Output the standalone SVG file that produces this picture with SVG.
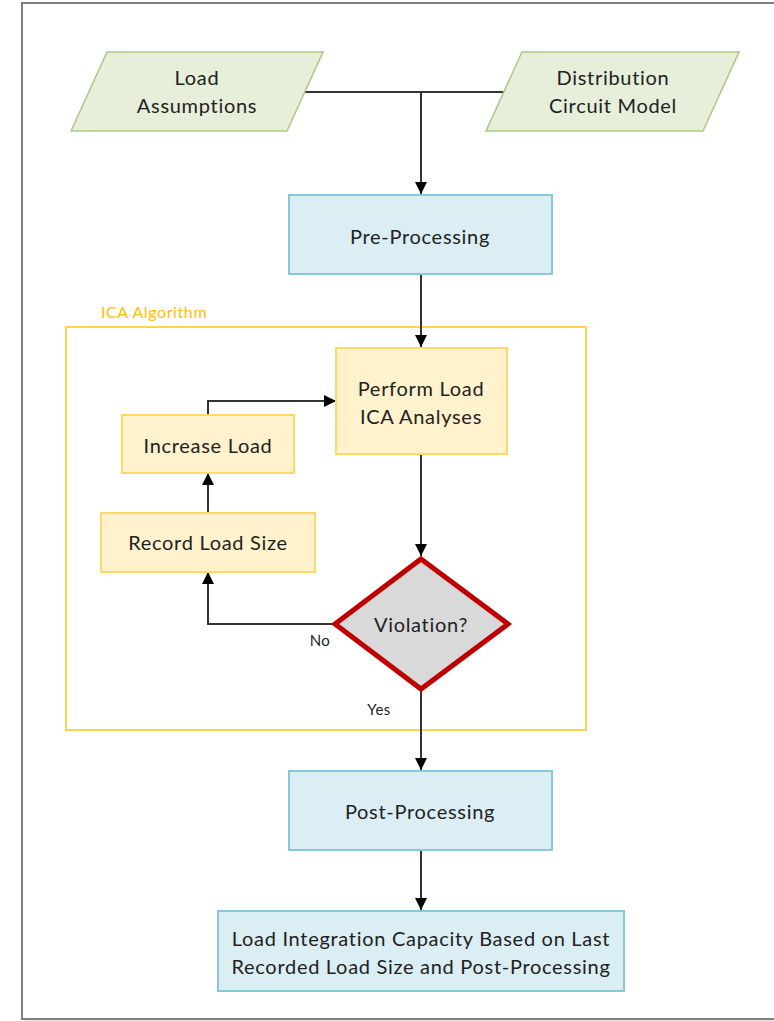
<svg xmlns="http://www.w3.org/2000/svg" width="774" height="1021" viewBox="0 0 774 1021">
<defs>
<marker id="arr" viewBox="0 0 10 10" refX="10" refY="5" markerWidth="12" markerHeight="12" markerUnits="userSpaceOnUse" orient="auto">
<path d="M0,0 L10,5 L0,10 z" fill="#000"/>
</marker>
<style>
.t{font-family:Lato,"Liberation Sans",sans-serif;font-size:20px;letter-spacing:0.7px;fill:#222;text-anchor:middle;dominant-baseline:central}
.lbl{font-family:Lato,"Liberation Sans",sans-serif;font-size:15px;letter-spacing:0.5px;fill:#222;text-anchor:middle;dominant-baseline:central}
.io{fill:#e7efdb;stroke:#a9c985;stroke-width:1.5}
.blue{fill:#dbeef4;stroke:#86c7da;stroke-width:2}
.yel{fill:#fff2cc;stroke:#ffd966;stroke-width:2}
.c{fill:none;stroke:#333;stroke-width:2;marker-end:url(#arr)}
.cn{fill:none;stroke:#333;stroke-width:2}
</style>
</defs>
<rect x="0" y="0" width="774" height="1021" fill="#fff"/>
<rect x="25" y="6" width="780" height="1016" fill="#e6e6e6"/>
<rect x="22" y="3" width="780" height="1016" fill="#fff" stroke="#7f7f7f" stroke-width="2"/>

<g id="container">
<rect x="66" y="327" width="520" height="403" fill="none" stroke="#ffc000" stroke-opacity="0.7" stroke-width="2"/>
<text x="101" y="311" font-family="Lato,'Liberation Sans',sans-serif" font-size="16" letter-spacing="0.6" fill="#ffc000" dominant-baseline="central">ICA Algorithm</text>
</g>

<g id="connectors">
<path class="cn" d="M300,92 H508"/>
<path class="c" d="M421,92 V194"/>
<path class="c" d="M421,274 V347"/>
<path class="c" d="M208,415 V401 H336"/>
<path class="c" d="M208,513 V473"/>
<path class="c" d="M421,454 V556"/>
<path class="c" d="M334,624 H208 V572"/>
<path class="c" d="M421,690 V770"/>
<path class="c" d="M421,850 V910"/>
<text class="lbl" x="320" y="640">No</text>
<text class="lbl" x="379" y="709">Yes</text>
</g>

<g id="load-assumptions">
<polygon class="io" points="107,52 323,52 287,131 71,131"/>
<text class="t" x="197" y="77">Load</text>
<text class="t" x="197" y="105">Assumptions</text>
</g>
<g id="distribution-circuit-model">
<polygon class="io" points="522,52 739,52 703,131 486,131"/>
<text class="t" x="613" y="77">Distribution</text>
<text class="t" x="613" y="105">Circuit Model</text>
</g>
<g id="pre-processing">
<rect class="blue" x="289" y="195" width="263" height="79"/>
<text class="t" x="420" y="236">Pre-Processing</text>
</g>
<g id="perform-load">
<rect class="yel" x="336" y="348" width="171" height="106"/>
<text class="t" x="421" y="388">Perform Load</text>
<text class="t" x="421" y="416">ICA Analyses</text>
</g>
<g id="increase-load">
<rect class="yel" x="122" y="415" width="172" height="58"/>
<text class="t" x="208" y="445">Increase Load</text>
</g>
<g id="record-load-size">
<rect class="yel" x="101" y="513" width="214" height="59"/>
<text class="t" x="208" y="542">Record Load Size</text>
</g>
<g id="violation">
<polygon points="421,559 508,624 421,689 335,624" fill="#d9d9d9" stroke="#c00000" stroke-width="5" stroke-linejoin="miter"/>
<text class="t" x="421" y="624">Violation?</text>
</g>
<g id="post-processing">
<rect class="blue" x="289" y="771" width="263" height="79"/>
<text class="t" x="420" y="811">Post-Processing</text>
</g>
<g id="result">
<rect class="blue" x="218" y="911" width="406" height="80"/>
<text class="t" x="421" y="938">Load Integration Capacity Based on Last</text>
<text class="t" x="421" y="966">Recorded Load Size and Post-Processing</text>
</g>
</svg>
